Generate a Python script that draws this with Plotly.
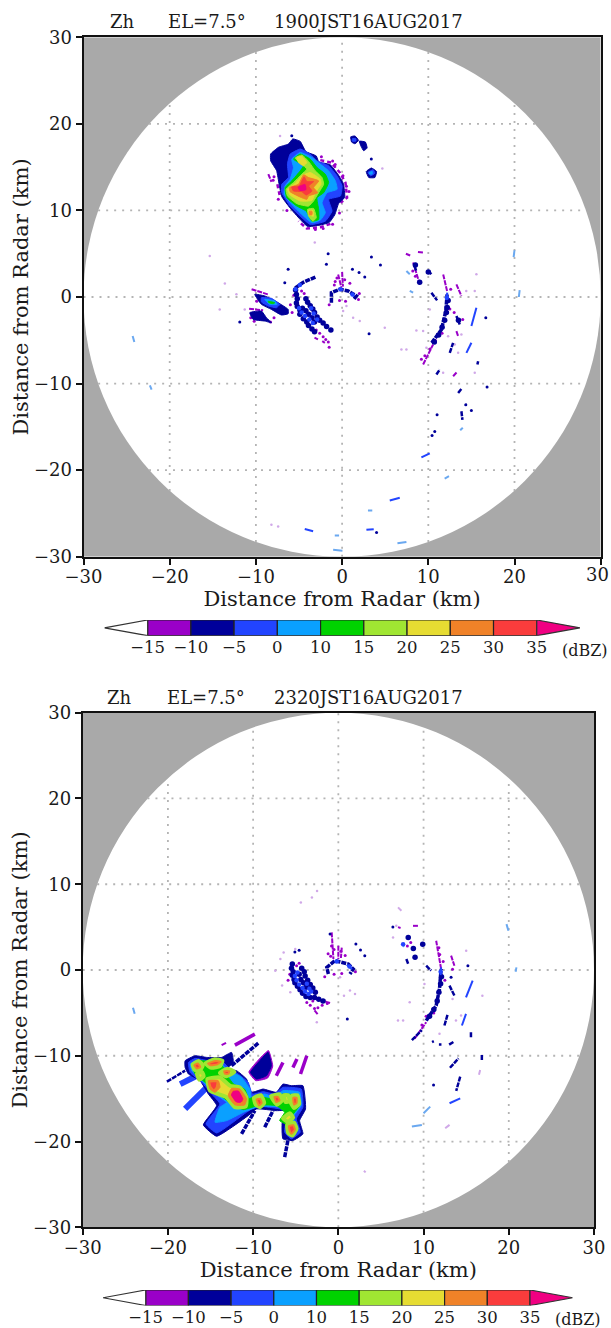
import plotly.graph_objects as go

W, H = 611, 1328
FONT = "DejaVu Serif"
C_FRINGE = "#9a00c8"
C_NAVY = "#00009a"
C_BLUE = "#2244ff"
C_LBLUE = "#0aa0ff"
C_GREEN = "#00d200"
C_LIME = "#a0e632"
C_YELLOW = "#e6dc32"
C_ORANGE = "#f08228"
C_RED = "#fa3c3c"
C_PINK = "#f00082"
C_LILAC = "#d0a8e8"
C_SKY = "#6aa8f0"
C_TEXT = "#1a1a1a"

cbar_levels = ["\u221215", "\u221210", "\u22125", "0", "10", "15", "20", "25", "30", "35"]
cbar_colors = [C_FRINGE, C_NAVY, C_BLUE, C_LBLUE, C_GREEN, C_LIME, C_YELLOW, C_ORANGE, C_RED]

titles_1 = ["Zh", "EL=7.5\u00b0", "1900JST16AUG2017"]
titles_2 = ["Zh", "EL=7.5\u00b0", "2320JST16AUG2017"]
grid_vals = [-20, -10, 0, 10, 20]
grid_ends = [22.4, 28.3, 30, 28.3, 22.4]

# ---------- 1900 JST: storm polygons (km east, km north) ----------
p1_navy = [[(-8.29,16.51),(-7.39,17.29),(-6.23,17.67),(-5.72,18.26),(-4.86,17.98),(-4.2,16.8),(-3.0,16.3),(-2.7,15.6),(-1.4,15.3),(-0.5,14.2),(0.15,13.1),(0.3,11.5),(-0.4,10.8),(-0.85,9.5),(-1.5,8.6),(-2.6,8.3),(-4.0,8.15),(-4.9,9.0),(-6.05,10.3),(-7.0,11.6),(-7.3,13.0),(-7.6,14.6),(-8.29,15.74)],
            [(-10.13,0.31),(-8.97,0.12),(-7.42,-0.66),(-6.26,-1.43),(-6.26,-1.93),(-7.04,-2.08),(-8.2,-1.43),(-9.36,-0.85)],
            [(-10.71,-1.81),(-9.36,-1.62),(-8.78,-2.39),(-8.2,-2.97),(-8.97,-2.78),(-10.32,-2.59)],
            [(1.0,18.5),(1.5,18.6),(1.9,18.1),(1.5,17.7),(1.1,17.9)],
            [(2.0,18.0),(2.7,17.9),(2.9,17.2),(2.5,16.9),(2.2,17.4)],
            [(2.8,14.5),(3.4,14.9),(4.0,14.5),(3.8,13.8),(3.1,13.8)]]
p1_blue = [[(-6.03,16.51),(-4.86,17.09),(-3.7,16.51),(-2.92,15.74),(-1.56,15.16),(-0.58,13.99),(0,12.83),(-0.19,11.67),(-1.56,11.28),(-1.17,9.92),(-1.95,8.76),(-3.7,8.37),(-4.86,9.34),(-6.03,10.5),(-7.0,12.05),(-7.0,13.02),(-6.23,13.8),(-6.34,15.35)],
           [(-9.36,-0.08),(-8.2,-0.15),(-7.23,-0.85),(-7.62,-1.24),(-8.58,-1.04),(-9.36,-0.58)],
           [(1.2,18.3),(1.6,18.3),(1.6,18.0),(1.2,18.0)],
           [(3.0,14.4),(3.6,14.7),(3.8,14.3),(3.3,14.0)]]
p1_lblue = [[(-5.84,15.93),(-4.86,16.7),(-3.5,16.12),(-2.53,15.35),(-1.56,14.57),(-0.78,13.41),(-0.58,12.44),(-1.75,12.05),(-2.33,10.89),(-1.95,9.73),(-2.53,8.88),(-3.5,8.57),(-4.67,9.53),(-5.84,10.7),(-6.73,11.86),(-6.61,12.83),(-6.03,13.6),(-5.64,14.96)],
            [(-8.97,-0.27),(-7.81,-0.46),(-7.54,-0.85),(-8.39,-0.85)],
            [(3.2,14.4),(3.5,14.5),(3.5,14.2),(3.2,14.2)]]
p1_green = [[(-5.64,15.93),(-4.86,16.51),(-3.7,15.93),(-2.92,14.96),(-1.95,14.19),(-1.56,13.22),(-2.14,12.05),(-2.92,11.47),(-2.72,10.12),(-2.72,8.95),(-3.5,8.76),(-4.16,9.92),(-5.25,10.5),(-6.42,11.47),(-6.61,12.64),(-5.84,13.41),(-4.86,14.57),(-4.47,15.16)],
            [(-8.58,-0.5),(-7.81,-0.66),(-8.0,-0.77),(-8.5,-0.66)]]
p1_lime = [[(-5.45,16.05),(-4.67,16.4),(-3.89,15.66),(-3.11,14.57),(-2.33,13.8),(-2.14,13.02),(-2.72,12.05),(-3.31,11.09),(-3.89,10.5),(-5.25,10.78),(-6.34,11.67),(-6.5,12.44),(-5.64,13.22),(-4.67,14.19),(-4.09,14.77),(-4.67,15.35)],
           [(-4.01,10.12),(-3.31,10.23),(-3.0,9.15),(-3.39,8.76),(-3.89,9.34)]]
p1_yellow = [[(-5.25,16.12),(-4.67,16.24),(-4.09,15.54),(-4.47,15.16),(-5.06,15.54)],
             [(-4.67,14.0),(-3.7,14.38),(-2.53,13.6),(-2.45,13.02),(-3.11,12.05),(-3.5,11.16),(-4.86,11.09),(-6.03,11.78),(-6.34,12.44),(-5.45,13.1)],
             [(-3.89,10.0),(-3.39,10.0),(-3.31,9.34),(-3.78,9.46)]]
p1_orange = [[(-4.47,14.11),(-3.89,13.8),(-2.72,13.41),(-3.31,12.64),(-2.84,12.05),(-3.89,11.67),(-4.09,11.28),(-4.86,11.55),(-6.03,12.17),(-6.11,12.64),(-5.06,13.02)],
             [(-3.8,9.9),(-3.5,9.9),(-3.5,9.5),(-3.8,9.5)]]
p1_red = [[(-4.4,13.88),(-4.09,13.33),(-3.31,13.33),(-3.89,12.83),(-3.5,12.25),(-4.16,11.78),(-4.67,12.17),(-5.64,12.25),(-5.84,12.71),(-4.97,12.83),(-4.67,13.41)]]
p1_pink = [[(-5.1,12.7),(-4.3,13.0),(-4.2,12.4),(-4.9,12.3)]]

# ---------- 1900 JST: streaks ----------
p1_rim_purple = [[(-2.53,15.81),(-1.28,15.54),(-0.27,14.38),(0.39,13.22),(0.58,11.47),(-0.19,10.89)],[(-1.36,8.45),(-2.53,8.06),(-4.09,7.91),(-5.06,8.76)],[(-7.51,13.02),(-7.2,11.55)]]
p1_wide_navy = [[(-3.1,2.3),(-4.5,1.7),(-5.5,1.0)],[(-1.24,-0.66),(-1.24,0.5),(-0.27,0.89),(0.7,0.7),(1.66,0.12),(1.35,-0.27)],[(10.4,-5.3),(11.53,-3.75),(12.03,-1.62),(12.18,0.3)]]
p1_streak_navy = [[(8.4,3.6),(8.6,3.0)],[(9.98,3.0),(10.36,2.63)],[(10.36,0.5),(11.02,-0.39)],
                  [(13.26,-2.2),(13.65,-3.17)],[(15.78,-7.41),(15.7,-7.8)],[(10.94,-8.96),(11.33,-8.38)],[(12.49,-6.45),(12.88,-5.29)],
                  [(13.46,-11.08),(13.84,-10.62)],[(13.84,-13.2),(13.96,-14.2)],[(14.3,-12.4),(14.4,-12.5)]]
p1_streak_blue = [[(-9.94,-2.0),(-8.97,-2.47)],[(-0.3,0.9),(0.1,0.85)],[(1.0,0.4),(1.4,0.1)],
                  [(12.1,-0.3),(12.2,0.5)],[(15.58,-1.24),(15.0,-3.36)],[(14.42,-6.45),(15.0,-5.29)],
                  [(9.2,-18.53),(10.17,-18.06)],[(2.82,-26.9),(3.67,-26.82)],[(-4.33,-26.8),(-3.36,-27.05)],[(5.53,-23.5),(6.69,-23.2)]]
p1_streak_purple = [[(-10.5,0.9),(-8.6,0.3)],[(-10.79,-1.35),(-9.16,-1.54)],[(9.4,-7.8),(10.56,-5.48)],[(12.18,0.69),(11.72,2.63)],[(8.24,3.98),(9.01,1.47)],
                    [(7.4,5.0),(7.9,4.8)],[(8.8,5.2),(9.4,5.14)],[(13.26,1.47),(13.84,0.12)],[(13.26,-3.94),(13.46,-4.52)],[(12.88,-9.15),(13.34,-8.65)],
                    [(-0.46,2.6),(-0.08,1.08)],[(0.0,2.9),(0.1,1.2)],[(-3.2,-4.7),(-2.8,-4.9)],[(-2.3,-5.1),(-2.0,-5.3)],[(-8.56,14.2),(-8.2,13.3)]]
p1_streak_sky = [[(7.46,3.01),(7.85,2.63)],[(7.85,0.7),(8.24,0.5)],[(11.9,-20.97),(12.4,-20.7)],[(3.0,-24.65),(3.5,-24.65)],[(6.42,-28.45),(7.46,-28.3)],[(-1.04,-29.2),(0.04,-29.3)],
                 [(-0.85,-27.56),(-0.35,-27.56)],[(-24.3,-4.5),(-24.1,-5.2)],[(20.5,0.0),(20.6,0.8)],[(19.9,4.6),(20.0,5.4)],[(13.7,-15.4),(14.0,-15.1)],[(-22.3,-10.2),(-22.1,-10.7)]]
p1_dots_navy_x = [-1.62,3.4,4.45,1.2,1.97,2.63,-11.87,3.13,16.67,-6.26,-6.65,-5.84,14.35,16.82,15.0,11.02,10.75,10.44,3.39,4.0,-1.82]
p1_dots_navy_y = [5.0,4.63,3.7,3.2,2.82,2.32,-2.9,-4.25,-2.4,3.2,1.66,18.64,-12.44,-10.39,-13.1,-13.6,-15.54,-16.0,15.93,-27.2,3.78]
p1_dots_lilac_x = [-15.35,-13.6,-14.2,-11.3,-12.26,-3.17,0.12,0.5,1.28,2.05,4.95,6.88,7.46,8.62,9.4,10.17,9.78,15.58,15.39,14.4,12.3,13.84,13.07,13.46,15.39,11.72,-8.2,-7.42,4.67,-7.2]
p1_dots_lilac_y = [4.75,1.55,-1.43,-1.43,0.31,6.3,-1.62,-1.04,-2.4,-2.78,-3.55,-6.06,-6.06,-3.86,-3.94,-1.43,-5.87,2.63,0.7,0.7,-4.52,-4.32,-5.48,-6.45,-8.76,-8.76,-26.3,-26.5,14.85,18.6]
p1_arc_navy_x = [-5.4,-5.3,-5.2,-5.3,-5.2,-4.9,-4.9,-4.5,-4.1,-3.9,-3.5,-3.2,-4.2,-4.0,-3.7,-3.4,-3.2,-2.9,-2.6,-2.2,-1.8,-1.3,-4.6,-4.2,-3.9,-3.5,-3.2,10.7,11.2,11.6,11.9,12.1,12.2,12.3,8.5,9.0,10.0,13.5]
p1_arc_navy_y = [0.8,0.3,-0.2,-0.7,-1.1,-1.5,-2.0,-2.5,-2.9,-3.3,-3.7,-4.0,-0.2,-0.6,-1.0,-1.4,-1.8,-2.3,-2.7,-3.0,-3.4,-3.8,-1.3,-1.6,-2.0,-2.4,-2.9,-5.2,-4.4,-3.5,-2.7,-1.8,-1.2,-0.4,3.7,1.7,2.9,-2.7]
p1_arc_blue_x = [-5.0,-4.7,-4.3,-3.8,-3.4,-3.6,-3.3,-2.9,-5.4,-4.9,-0.2,1.2,12.15]
p1_arc_blue_y = [-1.3,-1.8,-2.2,-2.6,-3.0,-1.3,-1.9,-2.6,0.9,1.4,0.9,0.3,-0.1]
p1_arc_purple_x = [-5.6,-6.0,-5.8,-4.7,-4.4,-3.0,-2.6,-2.2,-1.9,-1.6,-1.5,-0.9,-0.6,0.3,0.9,1.9,2.0,-1.5,-0.3,0.4,-0.8,-10.6,-10.2,-9.9,-8.3,-7.9,10.2,10.8,12.6,12.5,11.6,9.6,9.2,8.5,8.2,13.0,14.0,-7.9,-8.0,-7.2,-2.4,-1.9,-1.1,-0.8,0.1,0.5,0.8,-0.3,-1.1,-2.2,-3.1,-7.4,-6.4]
p1_arc_purple_y = [0.2,-0.9,-1.8,0.7,0.4,-3.8,-4.2,-4.6,-4.9,-5.2,-5.8,1.4,2.2,2.0,1.6,-0.3,0.4,-0.9,-0.4,-0.5,1.8,-2.4,-2.8,-0.5,-2.9,-2.4,-6.0,-5.0,0.9,-1.4,-4.2,-6.8,-7.2,2.4,3.0,-1.8,-2.6,13.9,13.5,13.4,16.2,15.3,15.7,15.3,14.0,12.8,12.2,9.7,8.4,7.9,7.8,11.3,10.0]

# ---------- 2320 JST: storm polygons ----------
p2_purple = [[(-10.5,-11.9),(-9.3,-10.4),(-8.2,-9.4),(-7.7,-11.2),(-8.3,-12.6),(-9.7,-12.9)]]
p2_navy = [[(-17.98,-10.58),(-16.81,-10.0),(-15.45,-10.19),(-13.7,-10.19),(-12.53,-9.61),(-12.33,-10.78),(-13.11,-11.55),(-11.95,-11.74),(-10.78,-12.71),(-10.19,-14.26),(-8.83,-13.88),(-7.28,-14.26),(-6.5,-13.3),(-5.53,-13.49),(-4.16,-13.49),(-3.85,-16.2),(-4.55,-17.56),(-4.16,-19.11),(-5.33,-19.88),(-6.5,-19.69),(-6.58,-17.75),(-5.72,-16.4),(-7.28,-16.4),(-9.61,-16.2),(-10.58,-16.98),(-14.28,-19.38),(-15.84,-18.06),(-14.28,-15.81),(-15.25,-14.46),(-16.23,-12.9),(-17.59,-12.13),(-17.98,-11.36)],
           [(-10.31,-11.94),(-9.22,-10.58),(-8.25,-9.6),(-7.86,-11.16),(-8.44,-12.33),(-9.61,-12.71)]]
p2_blue = [[(-17.59,-10.78),(-16.81,-10.31),(-15.25,-10.58),(-13.7,-10.58),(-12.92,-11.36),(-11.75,-12.13),(-10.58,-13.1),(-10.08,-14.46),(-8.83,-14.19),(-7.47,-14.46),(-6.5,-13.68),(-4.36,-13.88),(-4.16,-16.0),(-4.94,-17.36),(-4.47,-18.91),(-5.53,-19.69),(-6.3,-18.91),(-6.11,-17.36),(-6.11,-16.4),(-9.61,-15.89),(-10.78,-16.59),(-14.28,-19.0),(-15.53,-17.95),(-13.89,-15.62),(-14.86,-14.46),(-16.03,-13.1),(-17.39,-11.94)]]
p2_lblue = [[(-17.39,-10.97),(-16.69,-10.58),(-13.89,-10.78),(-13.11,-11.55),(-11.36,-12.52),(-10.39,-13.88),(-10.19,-14.84),(-8.64,-14.46),(-7.47,-14.84),(-6.5,-14.07),(-4.55,-14.26),(-4.36,-15.81),(-5.33,-17.17),(-4.75,-18.72),(-5.72,-19.3),(-6.11,-18.33),(-5.92,-16.78),(-6.89,-16.0),(-9.22,-15.89),(-11.14,-16.59),(-13.11,-17.56),(-14.47,-17.75),(-13.89,-16.01),(-13.11,-15.43),(-14.47,-14.46),(-15.84,-13.1),(-17.2,-11.74)]]
p2_green = [[(-17.2,-10.97),(-16.42,-10.58),(-14.09,-10.78),(-13.3,-11.55),(-12.9,-12.5),(-12.3,-13.3),(-11.0,-13.9),(-10.5,-15.0),(-10.0,-14.84),(-8.83,-14.84),(-7.67,-15.04),(-6.5,-14.46),(-4.75,-14.65),(-4.55,-15.81),(-5.53,-17.17),(-4.94,-18.53),(-5.72,-19.11),(-5.92,-18.14),(-6.89,-17.56),(-6.3,-16.6),(-7.28,-15.81),(-9.22,-15.74),(-11.14,-16.28),(-12.53,-15.62),(-14.28,-14.26),(-15.64,-13.1),(-16.81,-12.13)]]
p2_yellow = [[(-15.37,-12.71),(-13.89,-12.52),(-12.72,-13.49),(-11.56,-13.68),(-10.78,-14.84),(-10.86,-15.89),(-12.14,-16.0),(-13.11,-14.84),(-14.09,-14.46),(-15.06,-14.07)],
             [(-17.1,-11.0),(-16.4,-10.6),(-15.9,-11.1),(-16.3,-11.8),(-16.9,-11.6)],
             [(-15.6,-10.9),(-14.5,-10.4),(-13.6,-10.6),(-13.9,-11.2),(-14.9,-11.4)],
             [(-16.6,-12.1),(-16.0,-11.9),(-15.8,-12.4),(-16.3,-12.8)],
             [(-13.9,-12.0),(-13.0,-11.5),(-12.2,-11.9),(-13.2,-12.4)],
             [(-9.9,-14.9),(-9.1,-14.6),(-8.7,-15.5),(-9.2,-16.0),(-9.7,-15.7)],
             [(-7.9,-14.7),(-6.9,-14.5),(-6.6,-15.2),(-7.2,-15.7)],
             [(-6.4,-14.6),(-5.9,-14.6),(-5.7,-15.3),(-6.2,-15.4)],
             [(-5.5,-14.7),(-4.8,-14.6),(-4.6,-15.6),(-5.2,-16.1),(-5.6,-15.4)],
             [(-6.0,-18.0),(-5.2,-17.8),(-4.9,-18.5),(-5.4,-19.3),(-5.9,-19.0)],
             [(-6.5,-17.3),(-5.7,-16.7),(-5.3,-17.2),(-5.9,-17.7)]]
p2_orange = [[(-15.25,-12.91),(-14.09,-12.91),(-13.89,-13.68),(-14.47,-14.26),(-15.06,-13.88)],
             [(-12.53,-13.8),(-11.56,-13.88),(-10.78,-15.04),(-11.0,-15.74),(-12.14,-15.74),(-12.92,-14.65)]]
p2_red = [[(-15.14,-13.02),(-14.2,-13.02),(-14.28,-13.68),(-14.59,-14.07),(-14.98,-13.68)],
          [(-12.41,-13.95),(-11.63,-13.99),(-11.01,-15.04),(-11.25,-15.5),(-12.02,-15.5),(-12.72,-14.57)],
          [(-16.9,-11.1),(-16.5,-10.9),(-16.2,-11.3),(-16.6,-11.5)],
          [(-15.3,-10.9),(-14.4,-10.6),(-13.8,-10.7),(-14.2,-11.0),(-15.0,-11.1)],
          [(-13.4,-11.8),(-12.8,-11.8),(-12.9,-12.1),(-13.3,-12.1)],
          [(-9.6,-15.1),(-9.2,-15.0),(-9.0,-15.5),(-9.3,-15.8)],
          [(-7.5,-14.8),(-7.1,-14.8),(-6.9,-15.2),(-7.3,-15.4)],
          [(-5.3,-14.9),(-4.9,-14.9),(-4.9,-15.5),(-5.2,-15.7)],
          [(-5.8,-18.2),(-5.3,-18.1),(-5.1,-18.6),(-5.5,-19.1),(-5.7,-18.8)]]
p2_pink = [[(-12.33,-14.19),(-11.75,-14.11),(-11.25,-15.04),(-11.48,-15.43),(-12.02,-15.35),(-12.53,-14.57)]]

# ---------- 2320 JST: streaks ----------
p2_wide_blue = [[(-17.98,-16.2),(-15.45,-13.68)],[(-18.56,-13.3),(-16.61,-12.33)]]
p2_wide_navy = [[(-11.36,-19.11),(-9.8,-16.4)],[(-12.53,-11.16),(-9.4,-8.53)],[(-8.64,-18.33),(-7.67,-16.4)],[(-6.3,-21.82),(-5.92,-19.88)],
                [(-1.17,-0.47),(-1.36,0.31),(-0.39,1.09),(1.17,0.7),(1.75,0.12),(1.36,-0.47)],[(10.31,-5.9),(11.48,-4.15),(11.87,-2.2),(12.06,0.12)]]
p2_wide_purple = [[(-12.14,-8.76),(-9.8,-7.48)],[(-7.28,-12.33),(-6.5,-10.78)],[(-5.33,-11.36),(-4.86,-10.39)],[(-4.44,-12.13),(-3.7,-10.0)]]
p2_streak_navy = [[(-20.12,-13.02),(-17.98,-11.74)],
                  [(13.04,-1.82),(13.62,-2.98)],[(12.45,-6.47),(12.84,-5.12)],[(15.56,-7.25),(15.56,-7.83)],[(11.0,-8.4),(11.2,-8.3)],[(11.8,-8.7),(12.1,-8.7)],[(13.0,-8.7),(13.5,-8.4)],
                  [(7.98,1.28),(8.2,0.7)],[(10.31,0.5),(10.89,-0.08)],[(13.1,-11.4),(14.1,-10.3)],[(16.84,-9.9),(16.84,-10.5)],[(14.3,-12.44),(13.83,-14.1)],[(8.63,-8.18),(9.8,-7.0)]]
p2_streak_blue = [[(1.0,0.6),(1.6,0.1)],[(-0.4,1.0),(0.1,1.0)],[(12.0,-0.6),(12.06,0.3)],
                  [(15.76,-1.24),(14.98,-3.18)],[(14.5,-6.47),(14.98,-5.12)],[(13.05,-15.54),(14.3,-14.96)]]
p2_streak_purple = [[(-13.7,-8.76),(-13.1,-8.45)],[(-4.55,-14.26),(-4.24,-13.5)],[(-2.2,-3.5),(-0.97,-3.84)],[(8.95,-8.0),(10.31,-6.09)],[(12.06,0.12),(11.48,3.41)],
                    [(13.23,1.67),(13.62,0.5)],[(8.76,5.15),(9.34,5.15)],[(-0.78,4.38),(-0.58,1.28)],[(0.0,2.83),(0.0,1.28)],[(0.4,2.6),(0.3,1.4)],[(-2.8,-4.7),(-2.4,-5.2)],[(7.0,5.0),(7.3,4.9)]]
p2_streak_sky = [[(7.5,3.0),(7.7,2.7)],[(19.73,5.35),(19.96,4.57)],[(8.63,-18.26),(9.8,-18.06)],[(10.0,-16.7),(10.78,-15.93)],[(-24.1,-4.4),(-23.9,-5.1)],[(20.8,-0.2),(20.9,0.3)]]
p2_streak_lilac = [[(7.0,7.3),(7.4,6.9)],[(12.54,-18.45),(13.05,-18.06)],[(16.64,-11.67),(16.5,-12.2)],[(3.0,-23.4),(3.2,-23.6)]]
p2_dots_navy_x = [2.06,2.6,15.2,1.05,-0.97,3.1,6.4,11.17,13.23,-4.6,-5.1]
p2_dots_navy_y = [3.02,2.33,0.5,-5.7,4.19,1.67,5.0,-13.4,-0.85,2.3,2.1]
p2_dots_lilac_x = [-4.4,-3.1,-2.5,-5.06,-6.42,-6.8,-7.4,-6.6,-5.64,0.2,1.36,1.95,0.66,-1.56,-2.53,7.0,7.6,8.37,10.1,16.9,15.0,13.4,14.4,13.8,11.87,6.42,6.8]
p2_dots_lilac_y = [7.87,8.45,9.2,2.44,2.05,1.28,-0.08,-1.82,-2.6,-0.85,-2.4,-2.8,-3.0,-3.57,-6.09,-5.9,-5.9,-3.76,-1.63,-3.0,2.25,-3.37,-5.3,-5.9,-7.44,3.8,5.15]
p2_arc_navy_x = [-5.4,-5.5,-5.3,-5.4,-5.2,-5.1,-4.8,-4.5,-4.2,-3.8,-3.3,-2.8,-2.3,-1.8,-4.3,-4.0,-3.9,-3.6,-3.3,-3.0,-2.7,-4.6,-4.4,-4.1,-3.8,10.7,11.2,11.6,11.8,12.0,12.1,8.2,8.8,9.0,9.9]
p2_arc_navy_y = [0.7,0.2,-0.2,-0.6,-1.1,-1.5,-1.9,-2.3,-2.7,-3.1,-3.2,-3.2,-3.4,-3.6,0.2,-0.2,-0.7,-1.2,-1.7,-2.1,-2.6,-0.5,-1.1,-1.5,-2.0,-5.4,-4.6,-3.6,-2.6,-1.6,-0.8,3.8,2.5,1.5,3.0]
p2_arc_blue_x = [-5.1,-4.9,-4.6,-4.2,-3.9,-3.5,-3.2,-4.8,-3.7,-3.4,-0.2,1.3,12.0,7.6]
p2_arc_blue_y = [-0.7,-1.2,-1.7,-2.1,-2.5,-2.8,-2.5,-0.3,-1.6,-2.2,1.0,0.4,-0.2,3.0]
p2_arc_purple_x = [-5.7,-5.9,-4.9,-4.6,-3.7,-3.3,-3.0,-2.8,-2.4,-1.9,-1.3,-0.9,-0.5,0.3,0.8,2.0,-1.6,-0.5,0.4,-0.8,-1.2,11.9,11.8,12.3,12.5,9.8,10.3,11.2,8.5,8.1,13.4]
p2_arc_purple_y = [-0.5,-1.2,0.5,0.8,-3.8,-4.1,-3.6,-4.5,-4.4,-4.1,-3.9,1.6,2.4,2.2,1.7,-0.2,-0.8,-0.5,-0.4,2.8,1.9,1.8,2.6,1.0,-1.2,-6.4,-5.4,-5.0,3.2,2.8,0.1]


def poly_xy(polys):
    xs, ys = [], []
    for p in polys:
        xs += [a for a, _ in p] + [p[0][0], None]
        ys += [b for _, b in p] + [p[0][1], None]
    return xs, ys


def seg_xy(segs):
    xs, ys = [], []
    for s in segs:
        xs += [a for a, _ in s] + [None]
        ys += [b for _, b in s] + [None]
    return xs, ys


def px_dom_x(a, b):
    return [a / W, b / W]


def px_dom_y(top, bottom):
    return [1 - bottom / H, 1 - top / H]


fig = go.Figure()


def add_poly(polys, color, edge, ax, edge_width=1):
    x, y = poly_xy(polys)
    fig.add_trace(go.Scatter(x=x, y=y, xaxis=ax[0], yaxis=ax[1], mode="lines", fill="toself", fillcolor=color,
                             line=dict(color=edge, width=edge_width, shape="spline", smoothing=0.4),
                             hoverinfo="skip", showlegend=False))


def add_segs(segs, color, width, ax, dash="solid"):
    x, y = seg_xy(segs)
    fig.add_trace(go.Scatter(x=x, y=y, xaxis=ax[0], yaxis=ax[1], mode="lines",
                             line=dict(color=color, width=width, dash=dash), hoverinfo="skip", showlegend=False))


def add_dots(x, y, color, size, ax):
    fig.add_trace(go.Scatter(x=x, y=y, xaxis=ax[0], yaxis=ax[1], mode="markers",
                             marker=dict(color=color, size=size), hoverinfo="skip", showlegend=False))


def add_grid(ax):
    xs, ys = [], []
    for v, e in zip(grid_vals, grid_ends):
        xs += [v, v, None, -e, e, None]
        ys += [-e, e, None, v, v, None]
    fig.add_trace(go.Scatter(x=xs, y=ys, xaxis=ax[0], yaxis=ax[1], mode="lines",
                             line=dict(color="#b4b4b4", width=1.8, dash="2px,6px"), hoverinfo="skip", showlegend=False))


A1 = ("x", "y")
A2 = ("x2", "y2")
ROUGH = "5px,1px"
add_grid(A1)
add_dots(p1_dots_lilac_x, p1_dots_lilac_y, C_LILAC, 2.5, A1)
add_segs(p1_streak_sky, C_SKY, 2, A1)
add_segs(p1_streak_purple, C_FRINGE, 2, A1, ROUGH)
add_segs(p1_rim_purple, C_FRINGE, 2.5, A1, "4px,3px")
add_dots(p1_arc_purple_x, p1_arc_purple_y, C_FRINGE, 3, A1)
add_segs(p1_wide_navy, C_NAVY, 3.5, A1, ROUGH)
add_segs(p1_streak_navy, C_NAVY, 2.5, A1, ROUGH)
add_dots(p1_arc_navy_x, p1_arc_navy_y, C_NAVY, 5.5, A1)
add_segs(p1_streak_blue, C_BLUE, 2, A1)
add_dots(p1_arc_blue_x, p1_arc_blue_y, C_BLUE, 4.5, A1)
add_dots(p1_dots_navy_x, p1_dots_navy_y, C_NAVY, 3, A1)
for polys, col, edge in [(p1_navy, C_NAVY, C_NAVY), (p1_blue, C_BLUE, C_BLUE), (p1_lblue, C_LBLUE, C_LBLUE),
                         (p1_green, C_GREEN, C_GREEN), (p1_lime, C_LIME, C_LIME), (p1_yellow, C_YELLOW, C_YELLOW),
                         (p1_orange, C_ORANGE, C_ORANGE), (p1_red, C_RED, C_RED), (p1_pink, C_PINK, C_PINK)]:
    add_poly(polys, col, edge, A1)

add_grid(A2)
add_dots(p2_dots_lilac_x, p2_dots_lilac_y, C_LILAC, 2.5, A2)
add_segs(p2_streak_lilac, C_LILAC, 2, A2)
add_segs(p2_streak_sky, C_SKY, 2, A2)
add_segs(p2_streak_purple, C_FRINGE, 2, A2, ROUGH)
add_dots(p2_arc_purple_x, p2_arc_purple_y, C_FRINGE, 3, A2)
add_segs(p2_wide_purple, C_FRINGE, 3.5, A2)
add_segs(p2_wide_navy, C_NAVY, 3.5, A2, ROUGH)
add_segs(p2_streak_navy, C_NAVY, 2.5, A2, ROUGH)
add_dots(p2_arc_navy_x, p2_arc_navy_y, C_NAVY, 5.5, A2)
add_segs(p2_streak_blue, C_BLUE, 2, A2)
add_dots(p2_arc_blue_x, p2_arc_blue_y, C_BLUE, 4.5, A2)
add_dots(p2_dots_navy_x, p2_dots_navy_y, C_NAVY, 3, A2)
add_segs(p2_wide_blue, C_BLUE, 6, A2)
for polys, col, edge, ew in [(p2_purple, C_FRINGE, C_FRINGE, 1), (p2_navy, C_NAVY, C_NAVY, 1), (p2_blue, C_BLUE, C_BLUE, 1), (p2_lblue, C_LBLUE, C_LBLUE, 1),
                             (p2_green, C_GREEN, C_GREEN, 1), (p2_yellow, C_YELLOW, C_LIME, 4), (p2_orange, C_ORANGE, C_ORANGE, 1),
                             (p2_red, C_RED, C_ORANGE, 2), (p2_pink, C_PINK, C_PINK, 1)]:
    add_poly(polys, col, edge, A2, ew)

# colour bars
for xa, ya in [("x3", "y3"), ("x4", "y4")]:
    fig.add_trace(go.Bar(x=[1] * len(cbar_colors), y=[0] * len(cbar_colors), base=list(range(len(cbar_colors))),
                         width=1, orientation="h", xaxis=xa, yaxis=ya,
                         marker=dict(color=cbar_colors, line=dict(color="#222222", width=1.2)),
                         hoverinfo="skip", showlegend=False))
    fig.add_trace(go.Scatter(x=[0, -1, 0, 0], y=[-0.5, 0, 0.5, -0.5], xaxis=xa, yaxis=ya, mode="lines", fill="toself",
                             fillcolor="white", line=dict(color="#333333", width=1.2), hoverinfo="skip", showlegend=False))
    fig.add_trace(go.Scatter(x=[9, 10, 9, 9], y=[-0.5, 0, 0.5, -0.5], xaxis=xa, yaxis=ya, mode="lines", fill="toself",
                             fillcolor=C_PINK, line=dict(color="#333333", width=1.2), hoverinfo="skip", showlegend=False))

TICKS = [-30, -20, -10, 0, 10, 20, 30]


def main_axes(dx, dy):
    ax = dict(range=[-30, 30], tickmode="array", tickvals=TICKS, ticks="outside", ticklen=6, tickwidth=1.6, tickcolor="#111111",
              showline=True, linecolor="#111111", linewidth=2, mirror=True, showgrid=False, zeroline=False,
              tickfont=dict(family=FONT, size=18, color=C_TEXT))
    return (dict(ax, domain=dx, ticklabelstandoff=-3, title=dict(text="Distance from Radar (km)", standoff=1, font=dict(family=FONT, size=21, color=C_TEXT))),
            dict(ax, domain=dy, title=dict(text="Distance from Radar (km)", standoff=0, font=dict(family=FONT, size=21, color=C_TEXT))))


x1, y1 = main_axes(px_dom_x(83.5, 600.7), px_dom_y(37.3, 556.7))
x2, y2 = main_axes(px_dom_x(82.7, 594), px_dom_y(712.7, 1227.3))
x2["anchor"] = "y2"
y2["anchor"] = "x2"


def cbar_axes(left, right, top, bottom, anchor):
    xa = dict(domain=px_dom_x(left, right), range=[-1, 10], tickmode="array", tickvals=list(range(len(cbar_levels))),
              ticktext=cbar_levels, ticks="", showline=False, showgrid=False, zeroline=False,
              tickfont=dict(family=FONT, size=16.5, color=C_TEXT), anchor=anchor[1])
    ya = dict(domain=px_dom_y(top, bottom), range=[-0.5, 0.5], visible=False, anchor=anchor[0])
    return xa, ya


x3, y3 = cbar_axes(104.4, 580, 620, 635.7, ("x3", "y3"))
x4, y4 = cbar_axes(103, 572.7, 1290, 1305.5, ("x4", "y4"))


def disk_shapes(xr, yr):
    return [dict(type="rect", xref=xr, yref=yr, x0=-30, x1=30, y0=-30, y1=30, fillcolor="#a9a9a9", line_width=0, layer="below"),
            dict(type="circle", xref=xr, yref=yr, x0=-30, x1=30, y0=-30, y1=30, fillcolor="white", line_width=0, layer="below")]


def note(text, px, py, size=18):
    return dict(text=text, x=px / W, y=1 - py / H, xref="paper", yref="paper", xanchor="center", yanchor="middle",
                showarrow=False, font=dict(family=FONT, size=size, color=C_TEXT))


notes = [note(titles_1[0], 122, 22), note(titles_1[1], 207, 22), note(titles_1[2], 368, 22),
         note(titles_2[0], 120, 697), note(titles_2[1], 206, 697), note(titles_2[2], 368, 697),
         note("(dBZ)", 585, 650, 16), note("(dBZ)", 578, 1319, 16),
         dict(text="30", x=1, y=1 - 575 / H, xref="paper", yref="paper", xanchor="right", yanchor="middle", showarrow=False,
              font=dict(family=FONT, size=18, color=C_TEXT))]

fig.update_layout(width=W, height=H, autosize=False, margin=dict(l=0, r=0, t=0, b=0, autoexpand=False), paper_bgcolor="white", plot_bgcolor="rgba(0,0,0,0)",
                  showlegend=False, barmode="overlay", xaxis=x1, yaxis=y1, xaxis2=x2, yaxis2=y2, xaxis3=x3, yaxis3=y3, xaxis4=x4, yaxis4=y4,
                  shapes=disk_shapes("x", "y") + disk_shapes("x2", "y2"), annotations=notes, font=dict(family=FONT))
fig.write_html("out.html", config={"displayModeBar": False}, post_script="document.body.style.margin='0';")
